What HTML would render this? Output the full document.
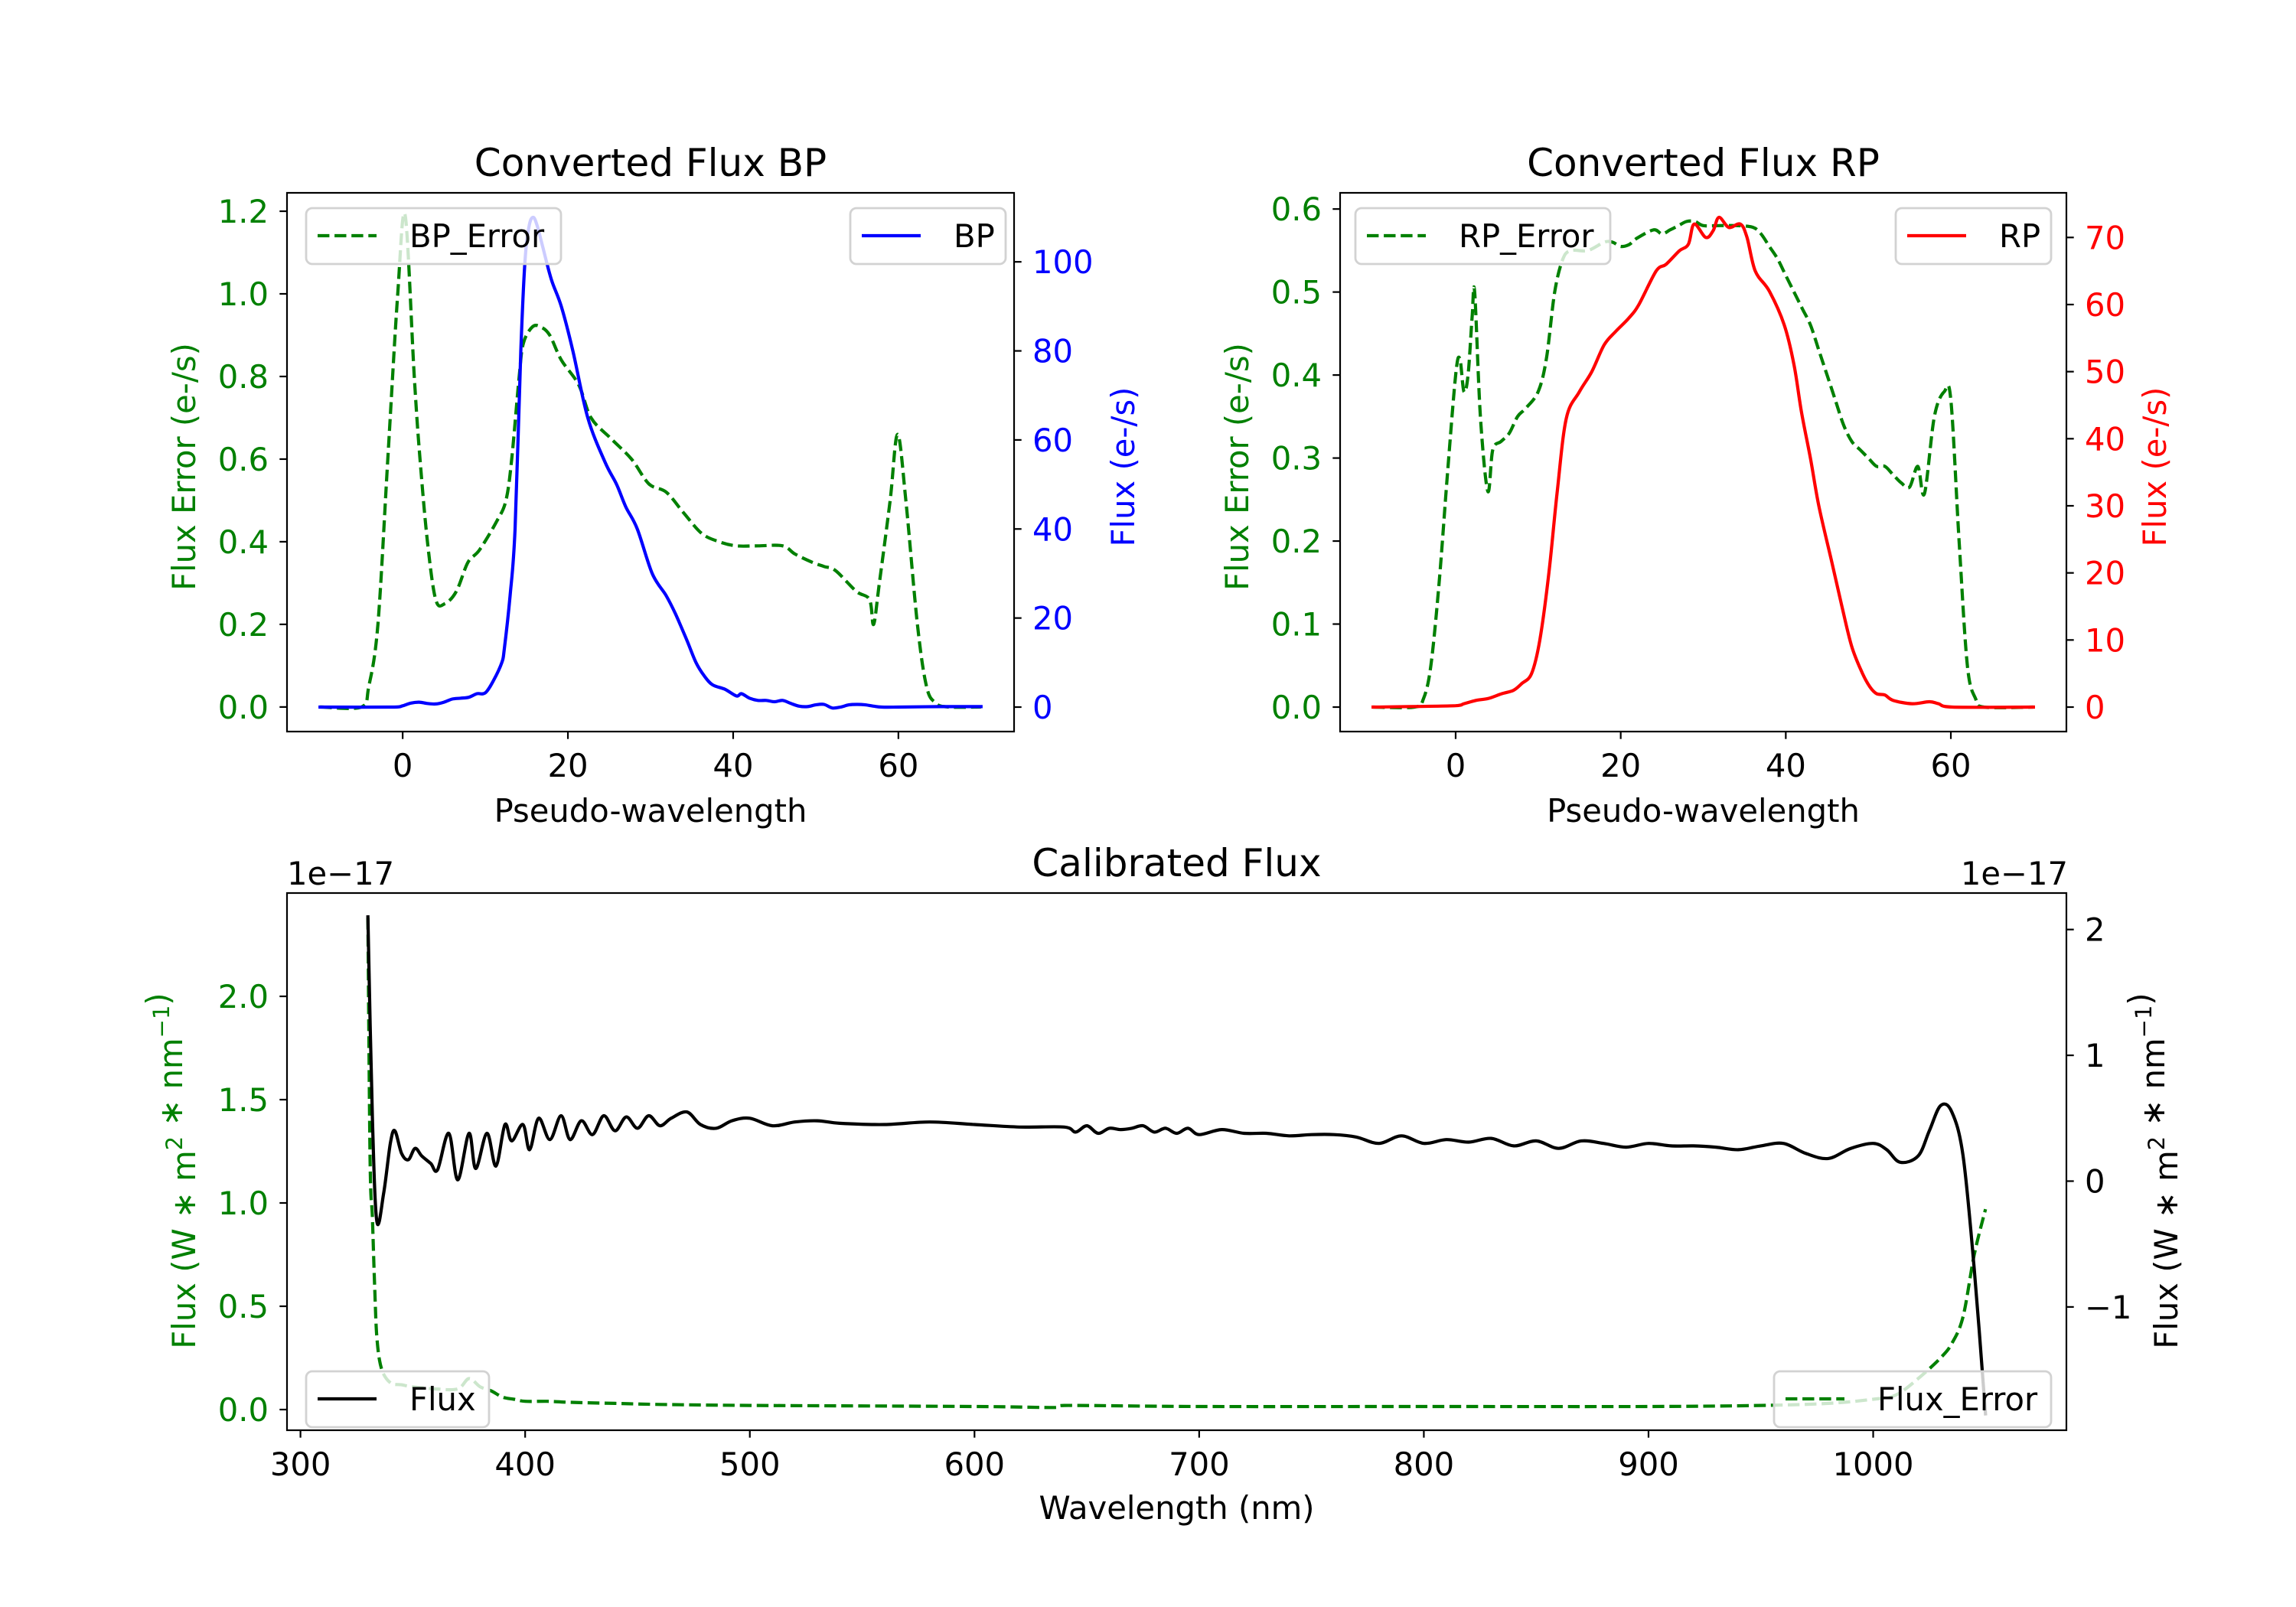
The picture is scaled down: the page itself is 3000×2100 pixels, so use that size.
<!DOCTYPE html>
<html><head><meta charset="utf-8">
<style>
html,body{margin:0;padding:0;background:#fff;}
svg{display:block;font-family:"DejaVu Sans","Liberation Sans",sans-serif;}
</style></head>
<body>
<svg id="fig" xmlns="http://www.w3.org/2000/svg" width="3000" height="2100" viewBox="0 0 3000 2100">
<rect x="0" y="0" width="3000" height="2100" fill="#fff"/>
</svg>
<script>
// ---------- data ----------
const bpErrX = [-10,-5,-4.1,-3,-1.8,-0.6,0.3,1.4,2.1,3,4,5.1,6.5,7.9,9.3,11.4,12.5,13.2,14.1,14.6,15.7,16.7,17.8,19.2,21.3,22.8,25.2,27.7,29.8,31.9,34,36.2,38.3,40.4,43,46,47.5,49.6,51,52.4,54.9,56.5,57,57.7,59,59.9,60.9,62.3,63.4,64.5,66,70];
const bpErrY = [0,0,0.05,0.2,0.6,1.0,1.19,0.8,0.6,0.4,0.26,0.25,0.28,0.35,0.38,0.45,0.5,0.6,0.8,0.88,0.92,0.92,0.9,0.84,0.78,0.7,0.65,0.6,0.54,0.52,0.47,0.42,0.4,0.39,0.39,0.39,0.37,0.35,0.34,0.33,0.28,0.26,0.2,0.3,0.5,0.66,0.5,0.2,0.05,0.01,0,0];
const bpX = [-10,-1,0,1,2,3,4,5,6,7,8,9,10,11,12,12.3,13,13.6,14.3,14.8,15.3,15.8,16.3,17,18,19.2,20.6,22.4,24.5,25.9,27,28.4,30.2,31.9,33,34.4,35.5,36.5,37.5,39,40.4,41,42,43,44,45,46,47,48,49,50,51,52,53,54,55,56,57,58,60,65,70];
const bpY = [0,0,0.3,0.9,1.1,0.8,0.7,1.1,1.8,2,2.2,3,3.2,6,10,13,25,40,80,100,108,110,108,103,96,90,80,65,55,50,45,40,30,25,21,15,10,7,5,4,2.5,3,2,1.5,1.5,1.2,1.5,0.8,0.2,0.1,0.5,0.6,-0.2,0,0.5,0.6,0.5,0.2,0,0,0.1,0.1];
const rpErrX = [-10,-5,-3.9,-3,-2,-1,0,0.5,1,1.5,2,2.3,3,3.9,4.5,5.5,6.5,7.5,8.5,10,11,12,13,14,16,18,19,20,21,22,24,25,26,27,28,29,30,32,34,36,37,38,39,40,41,42,43,44,45,46,47,48,49,50,51,52,53,54,55,56,56.8,58,59.2,60,61,62,63,64,70];
const rpErrY = [0,0,0.01,0.05,0.15,0.28,0.4,0.42,0.38,0.4,0.47,0.5,0.35,0.26,0.31,0.32,0.33,0.35,0.36,0.38,0.42,0.5,0.54,0.55,0.55,0.56,0.56,0.555,0.557,0.565,0.575,0.57,0.575,0.58,0.585,0.585,0.58,0.58,0.58,0.578,0.57,0.555,0.54,0.52,0.5,0.48,0.46,0.43,0.4,0.37,0.34,0.32,0.31,0.3,0.29,0.29,0.28,0.27,0.265,0.29,0.257,0.35,0.38,0.37,0.2,0.05,0.01,0,0];
const rpX = [-10,0,1,2.5,4,5.6,7,8,9.2,10.2,11.3,12.3,13.4,15,16.5,18,19.4,21,22.2,24.3,25.5,27.1,28.2,28.9,30.3,31.2,31.9,33.1,34.5,35.3,36.3,38,39.8,41,41.9,43,44,45.5,46.8,48,49.3,50.2,51,52,53,55.3,57.4,58.5,60.2,70];
const rpY = [0,0.2,0.5,1,1.3,2,2.5,3.5,5,10,20,32,43,47,50,54,56,58,60,65,66,68,69,72,70,71,73,71.5,72,70,65,62,57,51,44,37,30,22,15,9,5,3,2,1.8,1,0.5,0.8,0.5,0,0];
const calX = [330,332,334,337,340,342,345,348,351,354,358,361,366,370,375,378,383,387,391,394,399,402,406,411,416,420,425,430,435,440,445,450,455,460,465,472,478,485,492,500,510,520,530,540,560,580,600,620,640,645,650,655,660,665,670,675,680,685,690,695,700,710,720,730,740,750,760,770,780,790,800,810,820,830,840,850,860,870,880,890,900,910,920,930,940,950,960,970,980,990,1000,1006,1012,1020,1025,1030,1035,1040,1045,1050];
const calY = [2.1,0.5,-0.32,-0.1,0.3,0.4,0.22,0.17,0.26,0.2,0.14,0.09,0.38,0.01,0.38,0.1,0.38,0.12,0.45,0.32,0.45,0.25,0.5,0.33,0.52,0.33,0.48,0.37,0.52,0.4,0.51,0.42,0.52,0.44,0.5,0.55,0.45,0.42,0.48,0.5,0.44,0.47,0.48,0.46,0.45,0.47,0.45,0.43,0.43,0.39,0.44,0.38,0.42,0.41,0.42,0.44,0.39,0.42,0.38,0.42,0.37,0.41,0.38,0.38,0.36,0.37,0.37,0.35,0.3,0.36,0.3,0.33,0.31,0.34,0.28,0.32,0.26,0.32,0.3,0.27,0.3,0.28,0.28,0.27,0.25,0.28,0.3,0.22,0.18,0.26,0.3,0.25,0.15,0.2,0.4,0.6,0.55,0.2,-0.7,-1.85];
const errX = [330,331,332,333,334,336,340,345,350,360,370,375,380,385,390,395,400,410,420,440,460,500,600,635,640,700,800,900,950,980,1000,1010,1020,1030,1035,1040,1045,1050];
const errY = [2.38,1.2,0.93,0.6,0.35,0.2,0.13,0.12,0.11,0.1,0.1,0.15,0.11,0.09,0.06,0.05,0.04,0.04,0.035,0.03,0.025,0.02,0.015,0.01,0.02,0.015,0.015,0.015,0.02,0.03,0.05,0.07,0.15,0.25,0.32,0.45,0.75,0.97];
const pseudoTicks = [0,20,40,60];
const bpErrTicks = [0,0.2,0.4,0.6,0.8,1.0,1.2];
const bpTicks = [0,20,40,60,80,100];
const rpErrTicks = [0,0.1,0.2,0.3,0.4,0.5,0.6];
const rpTicks = [0,10,20,30,40,50,60,70];
const wlTicks = [300,400,500,600,700,800,900,1000];
const calErrTicks = [0,0.5,1.0,1.5,2.0];
const calTicks = [-1,0,1,2];

// ---------- helpers ----------
const NS = 'http://www.w3.org/2000/svg';
const svg = document.getElementById('fig');
function el(tag, attrs, parent){
  const e = document.createElementNS(NS, tag);
  for (const k in attrs) e.setAttribute(k, attrs[k]);
  (parent||svg).appendChild(e);
  return e;
}
function scale(d0,d1,p0,p1){ return v => p0 + (v-d0)/(d1-d0)*(p1-p0); }
const FS = 41.7;
const DASH = '15.4,6.7';
function fmt1(v){ return (v<0?'\u2212':'') + Math.abs(v).toFixed(1); }
function fmt0(v){ return (v<0?'\u2212':'') + Math.abs(v).toFixed(0); }

function drawLine(xs, ys, sx, sy, color, dashed, clip, name, smooth){
  const P = xs.map((x,i)=>[sx(x), sy(ys[i])]);
  let d = 'M' + P[0][0].toFixed(1) + ',' + P[0][1].toFixed(1);
  for (let i=0;i<P.length-1;i++){
    if (!smooth){ d += 'L' + P[i+1][0].toFixed(1) + ',' + P[i+1][1].toFixed(1); continue; }
    const p0 = P[Math.max(0,i-1)], p1 = P[i], p2 = P[i+1], p3 = P[Math.min(P.length-1,i+2)];
    const t = 0.5/3;
    let c1x = p1[0] + (p2[0]-p0[0])*t, c1y = p1[1] + (p2[1]-p0[1])*t;
    let c2x = p2[0] - (p3[0]-p1[0])*t, c2y = p2[1] - (p3[1]-p1[1])*t;
    c1x = Math.min(Math.max(c1x,p1[0]),p2[0]); c2x = Math.min(Math.max(c2x,p1[0]),p2[0]);
    d += 'C' + c1x.toFixed(1)+','+c1y.toFixed(1)+' '+c2x.toFixed(1)+','+c2y.toFixed(1)+' '+p2[0].toFixed(1)+','+p2[1].toFixed(1);
  }
  const p = el('path', {d:d, fill:'none', stroke:color, 'stroke-width':4.2, 'stroke-linejoin':'round', 'stroke-linecap': dashed?'butt':'square', 'clip-path':'url(#'+clip+')'});
  if (dashed) p.setAttribute('stroke-dasharray', DASH);
  
  
}
function xTicks(ax, ticks, sx, fmt){
  ticks.forEach(t=>{
    const x = sx(t);
    const l = el('line',{x1:x,x2:x,y1:ax.y1,y2:ax.y1+9.7,stroke:'#000','stroke-width':2.2});
    
    
    const tx = el('text',{x:x,y:ax.y1+59,'font-size':FS,'text-anchor':'middle',fill:'#000'});
    tx.textContent = fmt(t);
    
    
  });
}
function yTicks(ax, ticks, sy, fmt, side, color){
  ticks.forEach(t=>{
    const y = sy(t);
    const xa = side==='left'?ax.x0:ax.x1;
    const dir = side==='left'?-1:1;
    const l = el('line',{x1:xa,x2:xa+dir*9.7,y1:y,y2:y,stroke:'#000','stroke-width':2.2});
    
    
    const tx = el('text',{x:xa+dir*24,y:y+15,'font-size':FS,'text-anchor':side==='left'?'end':'start',fill:color});
    tx.textContent = fmt(t);
    
    
  });
}
function frame(ax, name){
  const r = el('rect',{x:ax.x0,y:ax.y0,width:ax.x1-ax.x0,height:ax.y1-ax.y0,fill:'none',stroke:'#000','stroke-width':2.2});
  
  
}
function clipFor(ax, id){
  const cp = el('clipPath',{id:id});
  el('rect',{x:ax.x0,y:ax.y0,width:ax.x1-ax.x0,height:ax.y1-ax.y0},cp);
}
function legend(x, y, w, label, color, dashed, name){
  const g = el('g',{});
  
  
  el('rect',{x:x,y:y,width:w,height:73,rx:8,fill:'rgba(255,255,255,0.8)',stroke:'#d2d2d2','stroke-width':2.8},g);
  const ln = el('line',{x1:x+15,x2:x+92,y1:y+36,y2:y+36,stroke:color,'stroke-width':4.2},g);
  if (dashed) ln.setAttribute('stroke-dasharray', DASH);
  const t = el('text',{x:x+135,y:y+51,'font-size':FS,fill:'#000'},g);
  t.textContent = label;
}
function title(ax, txt, name){
  const t = el('text',{x:(ax.x0+ax.x1)/2,y:ax.y0-22,'font-size':50,'text-anchor':'middle',fill:'#000'});
  t.textContent = txt;
  
  
}
function vlabel(x, y, txt, color, name){
  const t = el('text',{x:x,y:y,'font-size':FS,'text-anchor':'middle',fill:color,transform:'rotate(-90 '+x+' '+y+')'});
  t.textContent = txt;
  
  
  return t;
}
function hlabel(x, y, txt, name){
  const t = el('text',{x:x,y:y,'font-size':FS,'text-anchor':'middle',fill:'#000'});
  t.textContent = txt;
  
  
}

// ---------- BP panel ----------
const bp = {x0:375,x1:1325,y0:252,y1:956};
clipFor(bp,'cbp');
const bsx = scale(-14,74,bp.x0,bp.x1);
const bsyL = scale(-0.0595,1.2445,bp.y1,bp.y0);
const bsyR = scale(-5.5,115.5,bp.y1,bp.y0);
drawLine(bpErrX,bpErrY,bsx,bsyL,'#008000',true,'cbp','bp-error-line',true);
drawLine(bpX,bpY,bsx,bsyR,'#0000ff',false,'cbp','bp-flux-line',true);
frame(bp,'bp-axes-frame');
xTicks(bp,pseudoTicks,bsx,fmt0);
yTicks(bp,bpErrTicks,bsyL,fmt1,'left','#008000');
yTicks(bp,bpTicks,bsyR,fmt0,'right','#0000ff');
legend(400,272,333,'BP_Error','#008000',true,'bp-error-legend');
legend(1111,272,203,'BP','#0000ff',false,'bp-legend');
title(bp,'Converted Flux BP','bp-title');
hlabel((bp.x0+bp.x1)/2,1074,'Pseudo-wavelength','bp-x-axis-title');
vlabel(255,610,'Flux Error (e-/s)','#008000','bp-left-y-axis-title');
vlabel(1482,610,'Flux (e-/s)','#0000ff','bp-right-y-axis-title');

// ---------- RP panel ----------
const rp = {x0:1751,x1:2700,y0:252,y1:956};
clipFor(rp,'crp');
const rsx = scale(-14,74,rp.x0,rp.x1);
const rsyL = scale(-0.0295,0.6195,rp.y1,rp.y0);
const rsyR = scale(-3.65,76.65,rp.y1,rp.y0);
drawLine(rpErrX,rpErrY,rsx,rsyL,'#008000',true,'crp','rp-error-line',true);
drawLine(rpX,rpY,rsx,rsyR,'#ff0000',false,'crp','rp-flux-line',true);
frame(rp,'rp-axes-frame');
xTicks(rp,pseudoTicks,rsx,fmt0);
yTicks(rp,rpErrTicks,rsyL,fmt1,'left','#008000');
yTicks(rp,rpTicks,rsyR,fmt0,'right','#ff0000');
legend(1771,272,333,'RP_Error','#008000',true,'rp-error-legend');
legend(2477,272,203,'RP','#ff0000',false,'rp-legend');
title(rp,'Converted Flux RP','rp-title');
hlabel((rp.x0+rp.x1)/2,1074,'Pseudo-wavelength','rp-x-axis-title');
vlabel(1631,610,'Flux Error (e-/s)','#008000','rp-left-y-axis-title');
vlabel(2830,610,'Flux (e-/s)','#ff0000','rp-right-y-axis-title');

// ---------- Calibrated panel ----------
const cal = {x0:375,x1:2700,y0:1167,y1:1869};
clipFor(cal,'ccal');
const csx = scale(294,1086,cal.x0,cal.x1);
const csyL = scale(-0.1,2.5,cal.y1,cal.y0);
const csyR = scale(-1.98,2.29,cal.y1,cal.y0);
drawLine(errX,errY,csx,csyL,'#008000',true,'ccal','calibrated-error-line',true);
drawLine(calX,calY,csx,csyR,'#000000',false,'ccal','calibrated-flux-line',true);
frame(cal,'calibrated-axes-frame');
xTicks(cal,wlTicks,csx,fmt0);
yTicks(cal,calErrTicks,csyL,fmt1,'left','#008000');
yTicks(cal,calTicks,csyR,fmt0,'right','#000');
legend(400,1792,239,'Flux','#000',false,'flux-legend');
legend(2318,1792,362,'Flux_Error','#008000',true,'flux-error-legend');
title(cal,'Calibrated Flux','calibrated-title');
hlabel((cal.x0+cal.x1)/2,1985,'Wavelength (nm)','calibrated-x-axis-title');
const o1 = el('text',{x:375,y:1156,'font-size':FS,fill:'#000'});
o1.textContent = '1e\u221217';


const o2 = el('text',{x:2702,y:1156,'font-size':FS,'text-anchor':'end',fill:'#000'});
o2.textContent = '1e\u221217';


function unitLabel(x, color, name){
  const t = vlabel(x,1530,'',color,name);
  const parts = [['Flux (W \u2217 m',0],['2',1],[' \u2217 nm',0],['\u22121',1],[')',0]];
  parts.forEach(p=>{
    const s = document.createElementNS(NS,'tspan');
    s.textContent = p[0];
    if (p[1]) { s.setAttribute('font-size','29'); s.setAttribute('dy','-17'); }
    t.appendChild(s);
    if (p[1]) { const b = document.createElementNS(NS,'tspan'); b.setAttribute('dy','17'); b.textContent=''; t.appendChild(b); }
  });
}
unitLabel(255,'#008000','calibrated-left-y-axis-title');
unitLabel(2845,'#000000','calibrated-right-y-axis-title');
</script>
</body></html>
